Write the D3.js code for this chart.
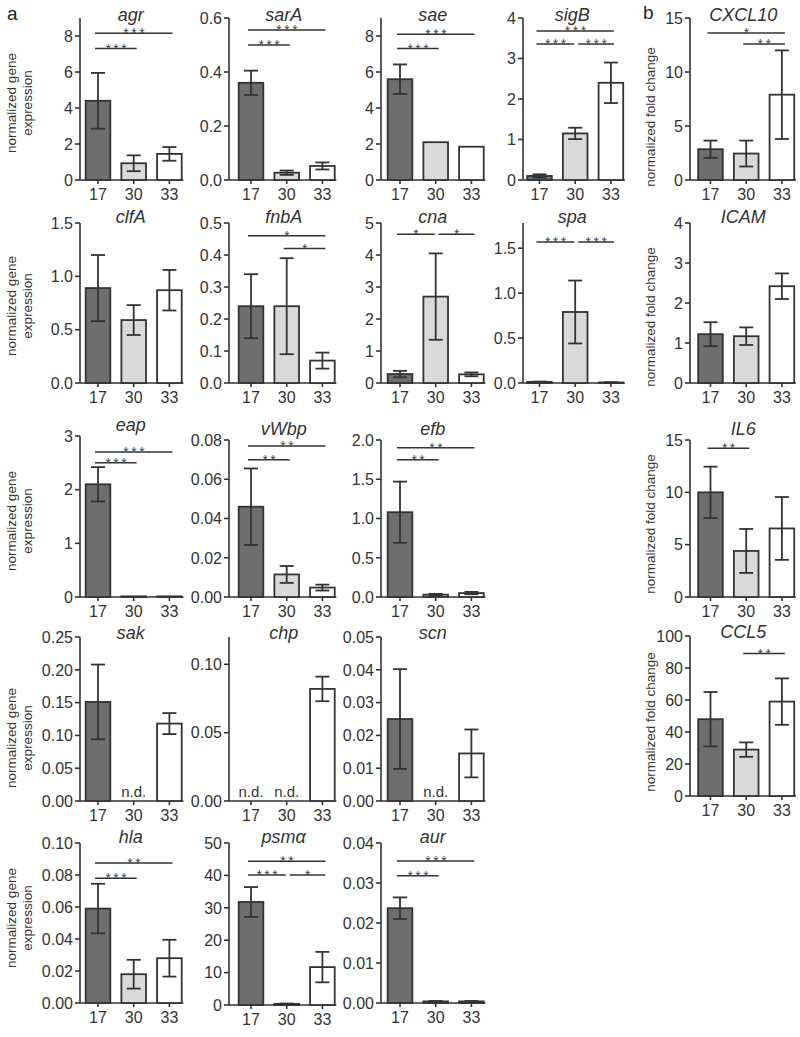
<!DOCTYPE html>
<html>
<head>
<meta charset="utf-8">
<style>
body { margin: 0; background: #fff; }
svg { font-family: "Liberation Sans", Arial, sans-serif; }
.tick-y, .tick-x { font-size: 16px; fill: #333; }
.title { font-size: 18px; font-style: italic; fill: #333; }
.stars { font-size: 14px; fill: #444; letter-spacing: 2.5px; }
.ylab { font-size: 13.5px; fill: #333; }
.nd { font-size: 15px; fill: #333; }
.panel-letter { font-size: 19px; fill: #222; }
</style>
<script src="https://cdnjs.cloudflare.com/ajax/libs/d3/7.8.5/d3.min.js"></script>
</head>
<body>
<div id="chart"></div>
<script>
// strains on the x axis
var groups = ["17", "30", "33"];

var genes = ["agr", "sarA", "sae", "sigB", "CXCL10",
             "clfA", "fnbA", "cna", "spa", "ICAM",
             "eap", "vWbp", "efb", "IL6",
             "sak", "chp", "scn", "CCL5",
             "hla", "psm\u03b1", "aur"];

// mean values (null = n.d.)
var means = [
  [4.4, 0.93, 1.45], [0.36, 0.027, 0.052], [5.6, 2.1, 1.85], [0.1, 1.15, 2.4], [2.85, 2.45, 7.9],
  [0.89, 0.59, 0.87], [0.24, 0.24, 0.07], [0.28, 2.7, 0.27], [0.012, 0.79, 0.006], [1.22, 1.17, 2.42],
  [2.1, 0.012, 0.012], [0.046, 0.0115, 0.0048], [1.08, 0.03, 0.05], [10, 4.4, 6.55],
  [0.151, null, 0.118], [null, null, 0.082], [0.025, null, 0.0145], [48, 29, 59],
  [0.059, 0.018, 0.028], [31.8, 0.35, 11.7], [0.0237, 0.0004, 0.0004]
];

// error bar half-lengths
var errors = [
  [1.55, 0.44, 0.38], [0.045, 0.008, 0.013], [0.82, 0, 0], [0.04, 0.14, 0.5], [0.8, 1.2, 4.1],
  [0.31, 0.14, 0.19], [0.1, 0.15, 0.025], [0.1, 1.35, 0.06], [0.004, 0.35, 0.002], [0.3, 0.22, 0.32],
  [0.32, 0, 0], [0.0195, 0.0043, 0.0015], [0.39, 0.01, 0.015], [2.45, 2.1, 3],
  [0.057, 0, 0.016], [0, 0, 0.009], [0.0152, 0, 0.0073], [17, 4.5, 14.5],
  [0.0155, 0.009, 0.0115], [4.6, 0.1, 4.7], [0.0027, 0.0001, 0.0001]
];

// y axis maximum, tick step and decimals
var yMax = [9, 0.6, 9, 4, 15, 1.5, 0.5, 5, 1.78, 4, 3, 0.08, 2, 15, 0.25, 0.12, 0.05, 100, 0.1, 50, 0.04];
var yStep = [2, 0.2, 2, 1, 5, 0.5, 0.1, 1, 0.5, 1, 1, 0.02, 0.5, 5, 0.05, 0.05, 0.01, 20, 0.02, 10, 0.01];
var yDigits = [0, 1, 0, 0, 0, 1, 1, 0, 1, 0, 0, 2, 1, 0, 2, 2, 2, 0, 2, 0, 2];

// significance brackets: [from group, to group, level (data units), label]
var brackets = [
  [[0, 2, 8.15, "***"], [0, 1, 7.3, "***"]],
  [[0, 2, 0.556, "***"], [0, 1, 0.5, "***"]],
  [[0, 2, 8.1, "***"], [0, 1, 7.3, "***"]],
  [[0, 2, 3.68, "***"], [0, 1, 3.36, "***"], [1, 2, 3.36, "***"]],
  [[0, 2, 13.6, "*"], [1, 2, 12.6, "**"]],
  [],
  [[0, 2, 0.46, "*"], [1, 2, 0.42, "*"]],
  [[0, 1, 4.65, "*"], [1, 2, 4.65, "*"]],
  [[0, 1, 1.57, "***"], [1, 2, 1.57, "***"]],
  [],
  [[0, 2, 2.7, "***"], [0, 1, 2.5, "***"]],
  [[0, 2, 0.077, "**"], [0, 1, 0.07, "**"]],
  [[0, 2, 1.9, "**"], [0, 1, 1.75, "**"]],
  [[0, 1, 14.2, "**"]],
  [], [], [],
  [[1, 2, 89, "**"]],
  [[0, 2, 0.0875, "**"], [0, 1, 0.078, "***"]],
  [[0, 2, 44.4, "**"], [0, 1, 40.1, "***"], [1, 2, 40.1, "*"]],
  [[0, 2, 0.0355, "***"], [0, 1, 0.0318, "***"]]
];

var fills = ["#6e6e6e", "#d9d9d9", "#ffffff"];

// ---- layout ----
var panelCol = [0,1,2,3,4, 0,1,2,3,4, 0,1,2,4, 0,1,2,4, 0,1,2];
var panelRow = [0,0,0,0,0, 1,1,1,1,1, 2,2,2,2, 3,3,3,3, 4,4,4];
var colAxisX = [80, 229, 381, 523, 690];
var colFirst = [98, 251, 400, 539.5, 710.5];
var rowTop = [18, 223, 440, 637, 843];
var rowBottom = [180, 383, 597, 801, 1003];
var geomFix = { "eap": {top: 436}, "CCL5": {top: 636, bottom: 796}, "psm\u03b1": {bottom: 1005} };
var rowLabelY = [103, 306, 521, 738, 918];
var bLabelY = [117, 317, 524, 722];
var step = 35.7;

var width = 800, height = 1037;
var svg = d3.select("#chart").append("svg")
  .attr("width", width)
  .attr("height", height);

genes.forEach(function(gene, p) {
  var c = panelCol[p], r = panelRow[p];
  var fix = geomFix[gene] || {};
  var top = fix.top || rowTop[r];
  var bottom = fix.bottom || rowBottom[r];
  var ax = colAxisX[c];
  var c0 = colFirst[c];

  var x = d3.scaleBand()
    .domain(groups)
    .range([c0 - step / 2, c0 - step / 2 + 3 * step])
    .paddingInner(0.31)
    .paddingOuter(0.155);
  var cx = function(i) { return x(groups[i]) + x.bandwidth() / 2; };

  var y = d3.scaleLinear().domain([0, yMax[p]]).range([bottom, top]);

  var g = svg.append("g");

  // y axis
  var n = Math.floor(yMax[p] / yStep[p] + 1e-6);
  var ticks = d3.range(0, n + 1).map(function(i) { return i * yStep[p]; });
  var fmt = d3.format("." + yDigits[p] + "f");
  g.append("line")
    .attr("x1", ax).attr("x2", ax)
    .attr("y1", bottom).attr("y2", top)
    .attr("stroke", "#333").attr("stroke-width", 1.6);
  g.selectAll(".yt").data(ticks).enter().append("line")
    .attr("x1", ax - 5).attr("x2", ax)
    .attr("y1", function(d) { return y(d); }).attr("y2", function(d) { return y(d); })
    .attr("stroke", "#333").attr("stroke-width", 1.6);
  g.selectAll(".tick-y").data(ticks).enter().append("text")
    .attr("class", "tick-y")
    .attr("x", ax - 7)
    .attr("y", function(d) { return y(d); })
    .attr("dy", "0.36em")
    .attr("text-anchor", "end")
    .text(function(d) { return fmt(d); });

  // x axis
  g.append("line")
    .attr("x1", ax).attr("x2", cx(2) + 14)
    .attr("y1", bottom).attr("y2", bottom)
    .attr("stroke", "#333").attr("stroke-width", 1.6);
  g.selectAll(".xt").data(groups).enter().append("line")
    .attr("x1", function(d, i) { return cx(i); }).attr("x2", function(d, i) { return cx(i); })
    .attr("y1", bottom).attr("y2", bottom + 4)
    .attr("stroke", "#333").attr("stroke-width", 1.6);
  g.selectAll(".tick-x").data(groups).enter().append("text")
    .attr("class", "tick-x")
    .attr("x", function(d, i) { return cx(i); })
    .attr("y", bottom + 20)
    .attr("text-anchor", "middle")
    .text(function(d) { return d; });

  // bars
  var rows = groups.map(function(gr, i) {
    return { g: gr, i: i, v: means[p][i], e: errors[p][i] };
  });
  g.selectAll(".bar").data(rows.filter(function(d) { return d.v !== null; })).enter().append("rect")
    .attr("x", function(d) { return x(d.g); })
    .attr("width", x.bandwidth())
    .attr("y", function(d) { return y(d.v); })
    .attr("height", function(d) { return bottom - y(d.v); })
    .attr("fill", function(d) { return fills[d.i]; })
    .attr("stroke", "#333").attr("stroke-width", 1.8);

  // error bars
  var eb = rows.filter(function(d) { return d.v !== null && d.e > 0; });
  eb.forEach(function(d) {
    var xc = cx(d.i);
    var yt = y(d.v + d.e), yb = y(Math.max(0, d.v - d.e));
    g.append("line").attr("x1", xc).attr("x2", xc).attr("y1", yt).attr("y2", yb)
      .attr("stroke", "#333").attr("stroke-width", 1.8);
    [yt, yb].forEach(function(yy) {
      g.append("line").attr("x1", xc - 7).attr("x2", xc + 7).attr("y1", yy).attr("y2", yy)
        .attr("stroke", "#333").attr("stroke-width", 1.8);
    });
  });

  // n.d.
  g.selectAll(".nd").data(rows.filter(function(d) { return d.v === null; })).enter().append("text")
    .attr("class", "nd")
    .attr("x", function(d) { return cx(d.i); })
    .attr("y", bottom - 4)
    .attr("text-anchor", "middle")
    .text("n.d.");

  // significance brackets
  var br = brackets[p];
  br.forEach(function(b) {
    var x1 = cx(b[0]) - 3, x2 = cx(b[1]) + 3;
    br.forEach(function(o) {
      if (o !== b && o[2] === b[2]) {
        if (o[0] === b[1]) x2 = cx(b[1]) - 1;
        if (o[1] === b[0]) x1 = cx(b[0]) + 3;
      }
    });
    var yy = y(b[2]);
    g.append("line").attr("x1", x1).attr("x2", x2).attr("y1", yy).attr("y2", yy)
      .attr("stroke", "#333").attr("stroke-width", 1.5);
    g.append("text").attr("class", "stars")
      .attr("x", (x1 + x2) / 2 + 1.5)
      .attr("y", yy + 5)
      .attr("text-anchor", "middle")
      .text(b[3]);
  });

  // title
  g.append("text").attr("class", "title")
    .attr("x", cx(1) - 3)
    .attr("y", top + (r === 0 ? 3 : r === 2 ? -5 : r === 3 ? 2 : 0))
    .attr("text-anchor", "middle")
    .text(gene);

  // y labels
  if (c === 0) {
    var lab = g.append("text").attr("class", "ylab")
      .attr("transform", "translate(16," + rowLabelY[r] + ") rotate(-90)")
      .attr("text-anchor", "middle");
    lab.append("tspan").attr("x", 0).attr("dy", 0).text("normalized gene");
    lab.append("tspan").attr("x", 0).attr("dy", 16).text("expression");
  }
  if (c === 4) {
    g.append("text").attr("class", "ylab")
      .attr("transform", "translate(655," + bLabelY[Math.min(r, 3)] + ") rotate(-90)")
      .attr("text-anchor", "middle")
      .text("normalized fold change");
  }
});

svg.append("text").attr("class", "panel-letter").attr("x", 7).attr("y", 20).text("a");
svg.append("text").attr("class", "panel-letter").attr("x", 643).attr("y", 19).text("b");
</script>
</body>
</html>
